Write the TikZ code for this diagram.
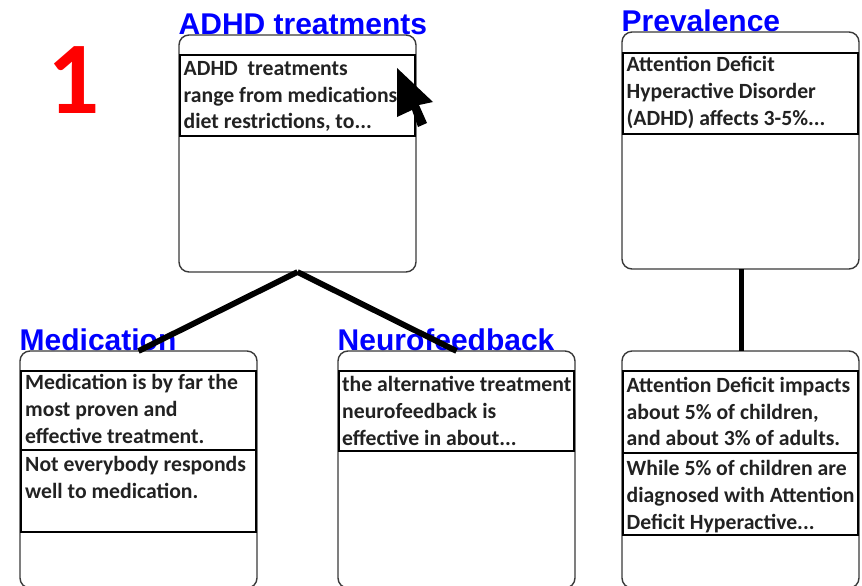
\documentclass[tikz,border=0pt]{standalone}
\usepackage{fontspec}
\setmainfont{Carlito}
\newfontfamily\headfont{Liberation Sans}
\definecolor{inktext}{HTML}{222222}
\definecolor{boxedge}{HTML}{3A3A3A}
\tikzset{
  card/.style={draw=boxedge,line width=1.4pt,fill=white,rounded corners=10pt,minimum width=237pt,minimum height=237pt,inner sep=0pt,outer sep=0pt},
  slot/.style={draw=black,line width=2.4pt,fill=white,minimum width=235pt,inner sep=0pt,outer sep=0pt},
  slotthin/.style={slot,line width=1.8pt},
  head/.style={font=\headfont\bfseries\fontsize{30}{32}\selectfont,text=blue,inner sep=0pt,anchor=base west},
  body/.style={font=\bfseries\fontsize{21.7}{26.7}\selectfont,text=inktext,inner sep=0pt,anchor=north west,align=left},
  link/.style={draw=black,line width=5.8pt}
}
\begin{document}
\begin{tikzpicture}[x=1pt,y=-1pt]
\useasboundingbox (0,0) rectangle (862,586);
\clip (0,0) rectangle (862,586);
% titles
\node[head] (tA) at (178.5,34.5) {ADHD treatments};
\node[head] (tP) at (621.5,31.5) {Prevalence};
\node[head] (tM) at (19.5,350) {Medication};
\node[head] (tN) at (337.5,350) {Neurofeedback};
% cards
\node[card] (A) at (297.5,153.5) {};
\node[card] (P) at (740.5,150.5) {};
\node[card] (M) at (138.5,469.5) {};
\node[card] (N) at (456.5,469.5) {};
\node[card] (I) at (740.5,469.5) {};
% slots
\node[slot,minimum height=81pt] (a1) at (297.5,95.5) {};
\node[slot,minimum height=81pt] (p1) at (740.5,93.5) {};
\node[slot,minimum height=79pt] (m1) at (138.5,410.5) {};
\node[slotthin,minimum height=82pt] (m2) at (138.5,491) {};
\node[slot,minimum height=80pt] (n1) at (456.5,411) {};
\node[slot,minimum height=82pt] (i1) at (740.5,412) {};
\node[slotthin,minimum height=82pt] (i2) at (740.5,494) {};
% texts
\node[body] (xa) at (183.5,56.5) {\strut ADHD\ \ treatments\\range from medications\\diet restrictions, to...};
\node[body] (xp) at (626.5,53) {\strut Attention Deficit\\Hyperactive Disorder\\(ADHD) affects 3-5\%...};
\node[body] (xm) at (25,371) {\strut Medication is by far the\\most proven and\\effective treatment.};
\node[body] (xm2) at (25,453) {\strut Not everybody responds\\well to medication.};
\node[body] (xn) at (342,373) {\strut the alternative treatment\\neurofeedback is\\effective in about...};
\node[body] (xi) at (626.5,373.5) {\strut Attention Deficit impacts\\about 5\% of children,\\and about 3\% of adults.};
\node[body] (xi2) at (626.5,457) {\strut While 5\% of children are\\diagnosed with Attention\\Deficit Hyperactive...};
% connectors
\draw[link] (A.south) -- (M.north);
\draw[link] (A.south) -- (N.north);
\draw[link] ([xshift=1pt]P.south) -- ([xshift=1pt]I.north);
% numeral
\node[font=\bfseries\fontsize{103}{103}\selectfont,text=red,inner sep=0pt,anchor=base] (num) at (73.5,113) {1};
% cursor
\fill[black] (397,68) -- (433,102) -- (419,105) -- (427,123) -- (418,127) -- (412,110) -- (397,117) -- cycle;
\end{tikzpicture}
\end{document}
